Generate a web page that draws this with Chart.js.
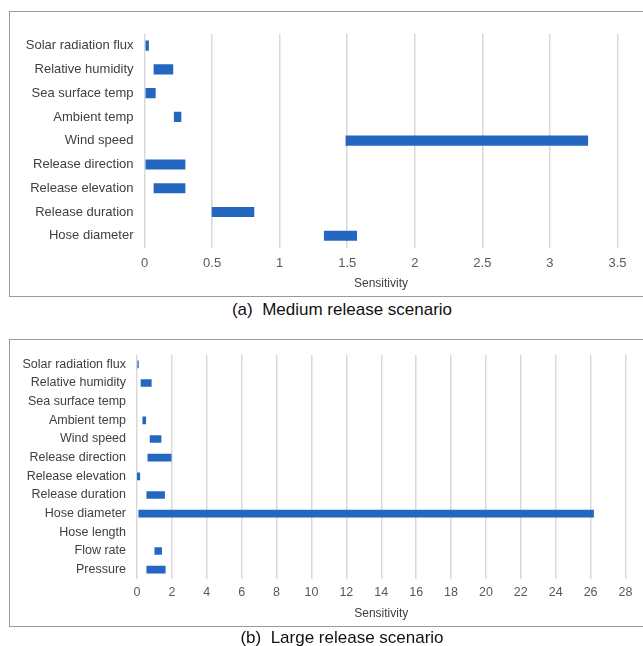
<!DOCTYPE html>
<html>
<head>
<meta charset="utf-8">
<script src="https://cdn.jsdelivr.net/npm/chart.js@4.4.1/dist/chart.umd.min.js"></script>
<style>
  html, body { margin: 0; padding: 0; background: #fff; width: 643px; height: 646px; overflow: hidden; position: relative; }
  .frame { position: absolute; border: 1.5px solid #9a9a9a; box-sizing: border-box; }
  canvas { position: absolute; left: 0; }
  .caption { position: absolute; left: 0; width: 684px; text-align: center; font-family: "Liberation Sans", Arial, sans-serif; font-size: 17px; color: #111; white-space: pre; line-height: 18px; }
</style>
</head>
<body>
<div class="frame" style="left:9px; top:11px; width:700px; height:286px;"></div>
<div class="frame" style="left:9px; top:339px; width:700px; height:288px;"></div>
<canvas id="medium" width="643" height="300" style="top:0px;"></canvas>
<canvas id="large" width="643" height="300" style="top:330px;"></canvas>
<div class="caption" style="top:301px;">(a)  Medium release scenario</div>
<div class="caption" style="top:629px;">(b)  Large release scenario</div>
<script>
// (a) Medium release: sensitivity range (low..high) for each input parameter
const mediumCategories = ["Solar radiation flux", "Relative humidity", "Sea surface temp", "Ambient temp",
  "Wind speed", "Release direction", "Release elevation", "Release duration", "Hose diameter"];
const mediumLow  = [0.01, 0.07, 0.01, 0.22, 1.49, 0.01, 0.07, 0.50, 1.33];
const mediumHigh = [0.03, 0.21, 0.08, 0.27, 3.28, 0.30, 0.30, 0.81, 1.57];
const mediumTicks = { min: 0, max: 3.5, step: 0.5 };

// (b) Large release: sensitivity range (low..high); null = no bar
const largeCategories = ["Solar radiation flux", "Relative humidity", "Sea surface temp", "Ambient temp",
  "Wind speed", "Release direction", "Release elevation", "Release duration", "Hose diameter",
  "Hose length", "Flow rate", "Pressure"];
const largeLow  = [0.00, 0.23, null, 0.33, 0.75, 0.62, 0.02, 0.56, 0.10, null, 1.02, 0.56];
const largeHigh = [0.08, 0.82, null, 0.50, 1.38, 1.96, 0.16, 1.58, 26.17, null, 1.41, 1.62];
const largeTicks = { min: 0, max: 28, step: 2 };

const BAR_BLUE = "#2467c1";
const FONT = "'Liberation Sans', Arial, sans-serif";

function ranges(low, high) {
  return low.map((lo, i) => (lo === null || high[i] === null) ? null : [lo, high[i]]);
}

function tornado(canvasId, cats, low, high, ticks, cfg) {
  return new Chart(document.getElementById(canvasId), {
    type: "bar",
    data: {
      labels: cats,
      datasets: [{
        data: ranges(low, high),
        backgroundColor: BAR_BLUE,
        borderWidth: 0,
        barThickness: cfg.barThickness
      }]
    },
    options: {
      indexAxis: "y",
      responsive: false,
      animation: false,
      layout: { padding: { left: 0, right: cfg.padRight, top: cfg.padTop, bottom: 0 } },
      plugins: { legend: { display: false }, tooltip: { enabled: false } },
      scales: {
        x: {
          type: "linear",
          min: ticks.min,
          max: ticks.max,
          afterFit: s => { s.height = cfg.xHeight; },
          ticks: {
            stepSize: ticks.step,
            color: "#595959",
            padding: cfg.tickPad,
            font: { family: FONT, size: cfg.tickSize },
            maxRotation: 0,
            callback: v => String(Number(v))
          },
          grid: { color: "#d9d9d9", lineWidth: 1.5, drawTicks: false },
          border: { display: false },
          title: {
            display: true,
            text: "Sensitivity",
            color: "#404040",
            font: { family: FONT, size: 12 },
            padding: { top: 0, bottom: cfg.titlePad }
          }
        },
        y: {
          afterFit: s => { s.width = cfg.yWidth; },
          ticks: {
            color: "#404040",
            padding: 11,
            font: { family: FONT, size: cfg.labelSize }
          },
          grid: { display: false, drawTicks: false },
          border: { display: false }
        }
      }
    }
  });
}

tornado("medium", mediumCategories, mediumLow, mediumHigh, mediumTicks, {
  barThickness: 9.5, padRight: 25.5, padTop: 33.8, xHeight: 52.4, yWidth: 144.5,
  tickPad: 8.5, tickSize: 13, labelSize: 13, titlePad: 8.8
});

tornado("large", largeCategories, largeLow, largeHigh, largeTicks, {
  barThickness: 7, padRight: 17.5, padTop: 25, xHeight: 51, yWidth: 137,
  tickPad: 6.5, tickSize: 12.5, labelSize: 12.5, titlePad: 8.8
});
</script>
</body>
</html>
